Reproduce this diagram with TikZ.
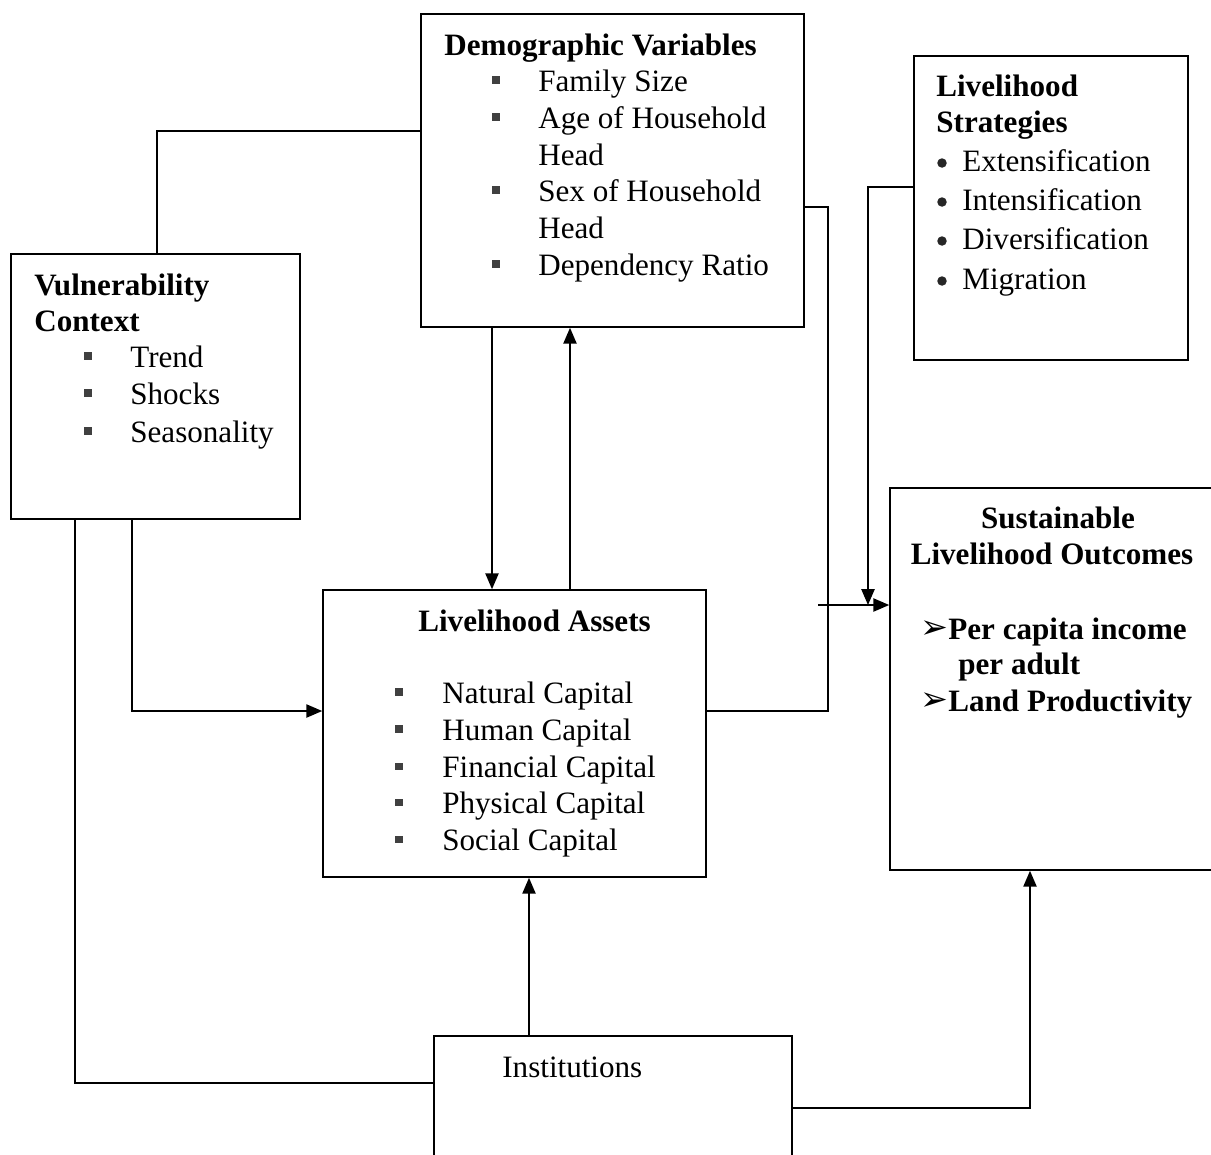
\documentclass[tikz,border=0pt]{standalone}
\usepackage{fontspec}
\setmainfont{Liberation Serif}
\newfontfamily\dejavu{DejaVu Sans}
\usetikzlibrary{arrows.meta,fit}
\begin{document}
\begin{tikzpicture}[x=0.02cm,y=-0.02cm,
  txt/.style={anchor=base west, inner sep=0pt, font=\fontsize{17.7}{21}\selectfont},
  hd/.style={txt, font=\fontsize{17.7}{21}\selectfont\bfseries},
  hdc/.style={anchor=base, inner sep=0pt, font=\fontsize{17.7}{21}\selectfont\bfseries},
  box/.style={draw, line width=0.9pt, inner sep=0pt},
  sq/.style={fill=black!75, minimum size=4pt, inner sep=0pt},
  dot/.style={circle, fill=black!85, minimum size=5.4pt, inner sep=0pt},
  mk/.style={anchor=base west, inner sep=0pt, font=\fontsize{19}{21}\dejavu},
  ln/.style={line width=0.9pt},
  arr/.style={ln, -{Triangle[length=9pt,width=7.5pt]}}
]
\useasboundingbox (0,0) rectangle (1211,1154);

% ---------- boxes ----------
\node[box, fit={(11,254) (300,519)}] (vc) {};
\node[box, fit={(421,14) (804,327)}] (dv) {};
\node[box, fit={(914,56) (1188,360)}] (ls) {};
\node[box, fit={(323,590) (706,877)}] (la) {};
\node[box, fit={(890,488) (1218,870)}] (slo) {};
\node[box, fit={(434,1036) (792,1162)}] (inst) {};

% ---------- Vulnerability Context ----------
\node[hd] (vct1) at (34,295) {Vulnerability};
\node[hd] (vct2) at (34,331) {Context};
\node[sq] (vcb1) at (88,356) {};
\node[sq] (vcb2) at (88,393) {};
\node[sq] (vcb3) at (88,431) {};
\node[txt] (vci1) at (130,367) {Trend};
\node[txt] (vci2) at (130,404) {Shocks};
\node[txt] (vci3) at (130,442) {Seasonality};

% ---------- Demographic Variables ----------
\node[hd] (dvt) at (444,55) {Demographic Variables};
\node[sq] (dvb1) at (496,80) {};
\node[sq] (dvb2) at (496,117) {};
\node[sq] (dvb3) at (496,190) {};
\node[sq] (dvb4) at (496,264) {};
\node[txt] (dvi1) at (538,91) {Family Size};
\node[txt] (dvi2) at (538,128) {Age of Household};
\node[txt] (dvi2b) at (538,165) {Head};
\node[txt] (dvi3) at (538,201) {Sex of Household};
\node[txt] (dvi3b) at (538,238) {Head};
\node[txt] (dvi4) at (538,275) {Dependency Ratio};

% ---------- Livelihood Strategies ----------
\node[hd] (lst1) at (936,96) {Livelihood};
\node[hd] (lst2) at (936,132) {Strategies};
\node[dot] (lsb1) at (942,163) {};
\node[dot] (lsb2) at (942,202) {};
\node[dot] (lsb3) at (942,241) {};
\node[dot] (lsb4) at (942,281) {};
\node[txt] (lsi1) at (962,171) {Extensification};
\node[txt] (lsi2) at (962,210) {Intensification};
\node[txt] (lsi3) at (962,249) {Diversification};
\node[txt] (lsi4) at (962,289) {Migration};

% ---------- Livelihood Assets ----------
\node[hd] (lat) at (418,631) {Livelihood Assets};
\node[sq] (lab1) at (399,692) {};
\node[sq] (lab2) at (399,729) {};
\node[sq] (lab3) at (399,766) {};
\node[sq] (lab4) at (399,802) {};
\node[sq] (lab5) at (399,839) {};
\node[txt] (lai1) at (442,703) {Natural Capital};
\node[txt] (lai2) at (442,740) {Human Capital};
\node[txt] (lai3) at (442,777) {Financial Capital};
\node[txt] (lai4) at (442,813) {Physical Capital};
\node[txt] (lai5) at (442,850) {Social Capital};

% ---------- Sustainable Livelihood Outcomes ----------
\node[hdc] (slot1) at (1058,528) {Sustainable};
\node[hdc] (slot2) at (1052,564) {Livelihood Outcomes};
\node[mk] (slom1) at (920,638) {➢};
\node[hd] (sloi1) at (948,639) {Per capita income};
\node[hd] (sloi1b) at (958,674) {per adult};
\node[mk] (slom2) at (920,710) {➢};
\node[hd] (sloi2) at (948,711) {Land Productivity};

% ---------- Institutions ----------
\node[txt] (instt) at (502,1077) {Institutions};

% ---------- bend points ----------
\coordinate (c1) at (157,131);
\coordinate (c2) at (75,1083);
\coordinate (c3) at (132,711);
\coordinate (c4) at (492,0);
\coordinate (c5) at (570,0);
\coordinate (c6) at (828,207);
\coordinate (c7) at (828,711);
\coordinate (c8) at (868,187);
\coordinate (c9) at (868,605);
\coordinate (c10) at (818,605);
\coordinate (c11) at (529,0);
\coordinate (c12) at (1030,1108);

% ---------- connectors ----------
\draw[ln] (c1 |- vc.north) |- (dv.west |- c1);
\draw[ln] (c2 |- vc.south) |- (inst.west |- c2);
\draw[arr] (c3 |- vc.south) |- (la.west |- c3);
\draw[arr] (c4 |- dv.south) -- (c4 |- la.north);
\draw[arr] (c5 |- la.north) -- (c5 |- dv.south);
\draw[ln] (dv.east |- c6) -- (c6) -- (c7) -- (la.east |- c7);
\draw[arr] (ls.west |- c8) -- (c8) -- (c9);
\draw[arr] (c10) -- (slo.west |- c10);
\draw[arr] (c11 |- inst.north) -- (c11 |- la.south);
\draw[arr] (inst.east |- c12) -| (c12 |- slo.south);
\end{tikzpicture}
\end{document}
